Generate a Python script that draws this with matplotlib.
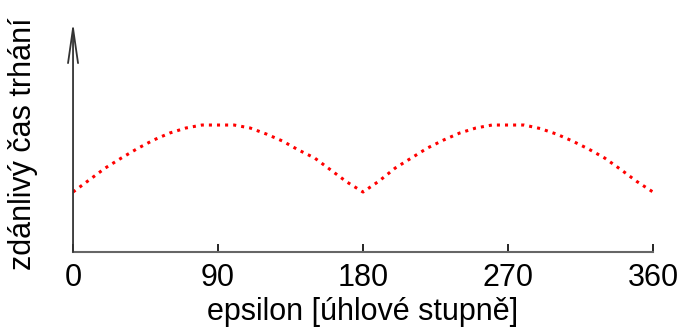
import matplotlib.pyplot as plt
import numpy as np

plt.rcParams['font.family'] = ['Liberation Sans', 'DejaVu Sans']

# angle in degrees and apparent value (arbitrary units)
epsilon = np.arange(0, 361, 10)
cas = [60, 72, 84, 94, 103.5, 112, 119, 124, 127, 127,
       127, 124, 118, 111, 102, 94, 82, 70, 60,
       71, 84, 94, 104, 112, 119, 124, 127, 127,
       127, 123.5, 118, 111, 103, 94, 82.5, 70.5, 60]
xticks = [0, 90, 180, 270, 360]

fig = plt.figure(figsize=(6.8, 3.29), dpi=100)
ax = fig.add_axes([0.1074, 0.234, 0.8529, 0.699])

ax.plot(epsilon, cas, color='red', linestyle=':', linewidth=2.2)

ax.set_xlim(0, 360)
ax.set_ylim(0, 230)
ax.set_xticks(xticks)
ax.set_yticks([])
ax.tick_params(axis='x', direction='in', length=6, width=1.2, color='black',
               labelsize=22, pad=8)

for s in ['top', 'right', 'left']:
    ax.spines[s].set_visible(False)
ax.spines['bottom'].set_color('#666666')
ax.spines['bottom'].set_linewidth(1.5)

# y axis with an open arrow head
ax.annotate('', xy=(0, 1), xycoords='axes fraction', xytext=(0, 0),
            textcoords='axes fraction',
            arrowprops=dict(arrowstyle='->,head_length=2.5,head_width=0.36',
                            mutation_scale=10, color='#333333', lw=1.3,
                            shrinkA=0, shrinkB=0),
            annotation_clip=False)

ax.set_xlabel('epsilon [úhlové stupně]', fontsize=22, labelpad=3)
ax.set_ylabel('zdánlivý čas trhání', fontsize=22)
ax.yaxis.set_label_coords(-0.06, 0.47)

fig.savefig('out.png', dpi=100)
